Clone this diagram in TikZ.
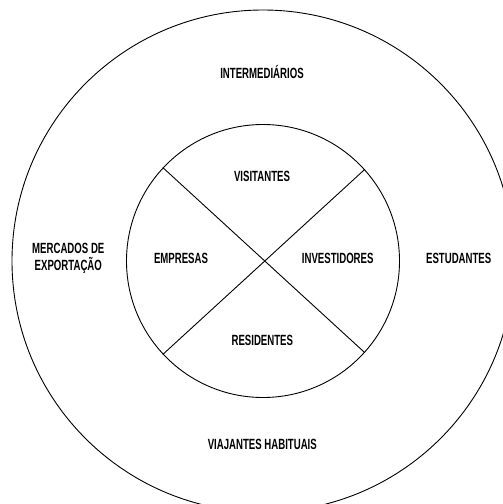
\documentclass[tikz,border=0pt]{standalone}
\usepackage{fontspec}
\newfontfamily\dinfont[FakeStretch=0.65]{Liberation Sans}
\usepackage{tikz}

\tikzset{
  ring/.style={draw,circle,line width=0.9pt,inner sep=0pt},
  lbl/.style={font=\dinfont\bfseries\fontsize{14.8}{16.7}\selectfont,align=center,inner sep=0pt}
}

\begin{document}
\begin{tikzpicture}[x=1pt,y=-1pt]
    \useasboundingbox (0,0) rectangle (503,504);
    \clip (0,0) rectangle (503,504);
    % the two rings
    \node[ring,minimum size=502pt] (outer) at (263,261) {};
    \node[ring,minimum size=273pt] (inner) at (263,261) {};
    % cross inside the inner ring
    \draw[line width=0.9pt] (inner.137.4) -- (inner.-42.6);
    \draw[line width=0.9pt] (inner.42.6) -- (inner.-137.4);
    % inner quarters
    \node[lbl] (vis) at (262,176.7) {VISITANTES};
    \node[lbl] (emp) at (181,258.3) {EMPRESAS};
    \node[lbl] (inv) at (337.7,258.3) {INVESTIDORES};
    \node[lbl] (res) at (262.3,340) {RESIDENTES};
    % outer ring
    \node[lbl] (int) at (262,71.7) {INTERMEDIÁRIOS};
    \node[lbl] (mer) at (68.3,258.3) {MERCADOS DE\\EXPORTAÇÃO};
    \node[lbl] (est) at (458.7,258.3) {ESTUDANTES};
    \node[lbl] (via) at (262.3,444.3) {VIAJANTES HABITUAIS};
\end{tikzpicture}
\end{document}
